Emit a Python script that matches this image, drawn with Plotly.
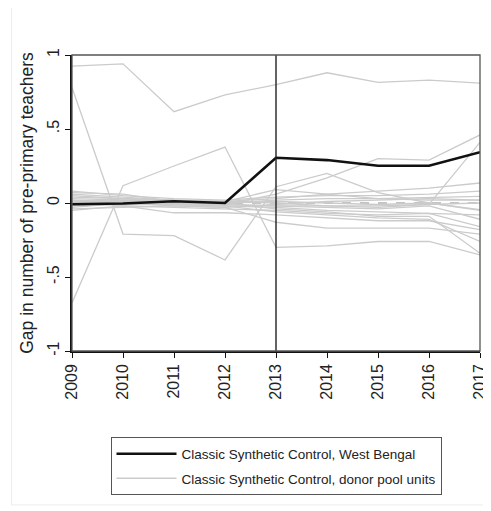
import plotly.graph_objects as go

years = [2009, 2010, 2011, 2012, 2013, 2014, 2015, 2016, 2017]
west_bengal = [-0.008, -0.003, 0.012, 0.0, 0.306, 0.29, 0.252, 0.252, 0.343]

donor_pool = [
    [0.925, 0.94, 0.617, 0.73, 0.80, 0.88, 0.815, 0.83, 0.81],
    [0.78, -0.21, -0.22, -0.385, 0.11, 0.20, 0.07, 0.0, -0.05],
    [-0.675, 0.117, 0.25, 0.378, -0.30, -0.29, -0.26, -0.26, -0.35],
    [0.02, 0.01, 0.0, -0.01, 0.06, 0.17, 0.30, 0.29, 0.46],
    [0.0, 0.02, 0.01, -0.01, -0.02, -0.02, -0.03, -0.01, 0.41],
    [0.06, 0.04, 0.02, 0.01, 0.03, 0.06, 0.08, 0.10, 0.135],
    [0.08, 0.05, 0.03, 0.02, 0.04, 0.05, 0.05, 0.06, 0.08],
    [0.04, 0.03, 0.0, 0.0, 0.02, 0.03, 0.03, 0.04, 0.045],
    [-0.03, 0.0, -0.02, -0.03, -0.13, -0.17, -0.17, -0.17, -0.21],
    [-0.02, -0.01, -0.01, -0.02, -0.06, -0.08, -0.10, -0.11, -0.26],
    [0.01, 0.0, -0.01, -0.02, -0.03, -0.05, -0.06, -0.07, -0.16],
    [0.03, 0.02, 0.0, -0.01, -0.02, -0.03, -0.04, -0.02, -0.11],
    [-0.05, -0.02, -0.03, -0.04, -0.05, -0.07, -0.08, -0.07, -0.08],
    [0.05, 0.03, 0.02, 0.0, 0.01, 0.0, -0.01, 0.0, -0.045],
    [0.07, 0.06, 0.01, 0.01, 0.0, -0.02, -0.02, -0.01, 0.0],
    [-0.01, 0.01, 0.0, 0.0, -0.04, -0.06, -0.09, -0.09, -0.34],
    [0.02, -0.02, -0.066, -0.066, -0.08, -0.10, -0.12, -0.12, -0.18],
    [0.0, 0.03, 0.02, 0.01, 0.09, 0.06, 0.03, 0.02, 0.02],
    [-0.04, -0.03, -0.02, -0.03, -0.01, 0.01, 0.02, 0.03, 0.02],
]

y_ticks = [-1, -0.5, 0, 0.5, 1]
y_tick_labels = ["-1", "-.5", "0", ".5", "1"]

FONT = "Liberation Sans, Arial, sans-serif"
fig = go.Figure()

# zero reference line (dashed)
fig.add_trace(go.Scatter(x=[years[0], years[-1]], y=[0, 0], mode="lines",
                         line=dict(color="#8a8a8a", width=1.2, dash="dash"),
                         showlegend=False, hoverinfo="skip"))

for i, d in enumerate(donor_pool):
    fig.add_trace(go.Scatter(
        x=years, y=d, mode="lines",
        line=dict(color="#cbcbcb", width=1.3),
        name="Classic Synthetic Control, donor pool units",
        legendgroup="donor", showlegend=(i == 0), legendrank=2,
    ))

fig.add_trace(go.Scatter(
    x=years, y=west_bengal, mode="lines",
    line=dict(color="#111111", width=2.6),
    name="Classic Synthetic Control, West Bengal", legendrank=1,
))

# treatment year line
fig.add_shape(type="line", x0=2013, x1=2013, y0=-1, y1=1, xref="x", yref="y",
              line=dict(color="#222222", width=1.4), layer="above")
# plot frame
fig.add_shape(type="rect", x0=0, x1=1, y0=0, y1=1, xref="paper", yref="paper",
              line=dict(color="#555555", width=1.3), layer="above")
# graph region outline
fig.add_shape(type="rect", x0=-0.148, x1=1.02, y0=-0.52, y1=1.165, xref="paper", yref="paper",
              line=dict(color="#ececec", width=1), layer="below")

fig.update_layout(
    width=483, height=503,
    margin=dict(l=64, r=11, t=47, b=160, autoexpand=False),
    paper_bgcolor="white", plot_bgcolor="white",
    font=dict(family=FONT, size=14, color="#222222"),
    showlegend=True,
    legend=dict(
        x=0.5, xanchor="center", y=-0.292, yanchor="top",
        bordercolor="#555555", borderwidth=1, bgcolor="white",
        font=dict(size=13.5, color="#222222"),
        tracegroupgap=4, itemwidth=60,
    ),
)
fig.update_xaxes(
    range=[2009, 2017], tickmode="array", tickvals=years,
    ticktext=[str(y) for y in years], tickangle=-90,
    ticks="outside", ticklen=5, tickcolor="#111111",
    showgrid=False, zeroline=False, automargin=False,
    showline=True, linecolor="#111111", linewidth=1.5,
    tickfont=dict(size=16),
)
fig.update_yaxes(
    range=[-1, 1], tickmode="array", tickvals=y_ticks, ticktext=y_tick_labels,
    tickangle=-90, ticks="outside", ticklen=5, tickcolor="#111111",
    showgrid=False, zeroline=False, automargin=False,
    showline=True, linecolor="#111111", linewidth=1.5,
    tickfont=dict(size=16),
    title=dict(text="Gap in number of pre-primary teachers", font=dict(size=17.5), standoff=7),
)

fig.write_html("out.html")
